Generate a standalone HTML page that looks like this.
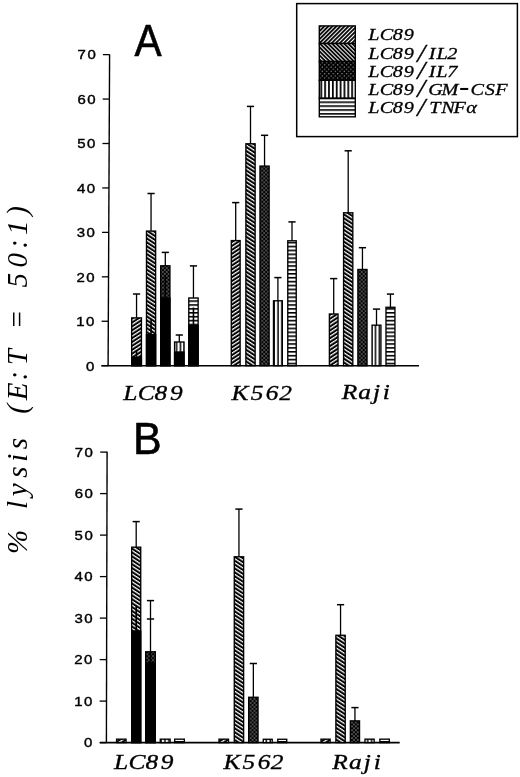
<!DOCTYPE html>
<html><head><meta charset="utf-8"><style>
html,body{margin:0;padding:0;background:#fff;}
body{width:520px;height:777px;overflow:hidden;}
svg{display:block;}
.tk{font-family:"Liberation Sans",sans-serif;font-size:13.4px;fill:#000;stroke:#000;stroke-width:0.4px;}
.ttl{font-family:"Liberation Sans",sans-serif;font-size:44.3px;fill:#000;stroke:#000;stroke-width:0.6px;}
.xl{font-family:"Liberation Serif",serif;font-style:italic;font-size:21.5px;fill:#000;stroke:#000;stroke-width:0.35px;}
.lg{font-family:"Liberation Serif",serif;font-style:italic;font-size:17.6px;fill:#000;stroke:#000;stroke-width:0.3px;}
.sl{font-size:25px;stroke-width:0.3px;}
.hy{font-size:27px;stroke-width:0;}
.yl{font-family:"Liberation Serif",serif;font-style:italic;font-size:29px;fill:#000;}
</style></head><body>
<svg width="520" height="777" viewBox="0 0 520 777">
<defs>
<pattern id="p1" patternUnits="userSpaceOnUse" width="3.27" height="3.27" patternTransform="rotate(-33)"><rect width="3.27" height="3.27" fill="#000"/><rect x="0" y="0" width="3.27" height="1.25" fill="#fff"/></pattern>
<pattern id="p2" patternUnits="userSpaceOnUse" width="3.27" height="3.27" patternTransform="rotate(33)"><rect width="3.27" height="3.27" fill="#000"/><rect x="0" y="0" width="3.27" height="1.25" fill="#fff"/></pattern>
<pattern id="q1" patternUnits="userSpaceOnUse" width="2.86" height="2.86" patternTransform="rotate(-45)"><rect width="2.86" height="2.86" fill="#000"/><rect x="0" y="0" width="2.86" height="1.05" fill="#fff"/></pattern>
<pattern id="q2" patternUnits="userSpaceOnUse" width="2.86" height="2.86" patternTransform="rotate(45)"><rect width="2.86" height="2.86" fill="#000"/><rect x="0" y="0" width="2.86" height="1.05" fill="#fff"/></pattern>
<pattern id="p3" patternUnits="userSpaceOnUse" width="3.9" height="3.9"><rect width="3.9" height="3.9" fill="#000"/><circle cx="0.97" cy="0.97" r="0.68" fill="#d0d0d0"/><circle cx="2.92" cy="2.92" r="0.68" fill="#d0d0d0"/></pattern>
<pattern id="q3" patternUnits="userSpaceOnUse" width="4.4" height="4.4"><rect width="4.4" height="4.4" fill="#000"/><circle cx="1.1" cy="1.1" r="0.62" fill="#bbb"/><circle cx="3.3" cy="3.3" r="0.62" fill="#bbb"/></pattern>
<pattern id="q4" patternUnits="userSpaceOnUse" width="3.86" height="3.9"><rect width="3.86" height="3.9" fill="#fff"/><rect x="0" y="0" width="1.75" height="3.9" fill="#000"/></pattern>
<pattern id="p4" patternUnits="userSpaceOnUse" width="3.9" height="3.9"><rect width="3.9" height="3.9" fill="#fff"/><rect x="0.4" y="0" width="1.5" height="3.9" fill="#000"/></pattern>
<pattern id="p5" patternUnits="userSpaceOnUse" width="3.9" height="3.9"><rect width="3.9" height="3.9" fill="#fff"/><rect x="0" y="0" width="3.9" height="1.6" fill="#000"/></pattern>
</defs>
<line x1="109.6" y1="54.4" x2="108.1" y2="365.7" stroke="#000" stroke-width="1.4"/>
<line x1="101.5" y1="365.7" x2="419" y2="365.7" stroke="#000" stroke-width="1.6"/>
<line x1="101.4" y1="365.7" x2="108.1" y2="365.7" stroke="#000" stroke-width="1.3"/>
<text transform="translate(95.7,370.55) scale(1.12,1)" class="tk" text-anchor="end" letter-spacing="1.3">0</text>
<line x1="101.61" y1="321.26" x2="108.31" y2="321.26" stroke="#000" stroke-width="1.3"/>
<text transform="translate(95.91,326.11) scale(1.12,1)" class="tk" text-anchor="end" letter-spacing="1.3">10</text>
<line x1="101.83" y1="276.82" x2="108.53" y2="276.82" stroke="#000" stroke-width="1.3"/>
<text transform="translate(96.13,281.67) scale(1.12,1)" class="tk" text-anchor="end" letter-spacing="1.3">20</text>
<line x1="102.04" y1="232.38" x2="108.74" y2="232.38" stroke="#000" stroke-width="1.3"/>
<text transform="translate(96.34,237.23) scale(1.12,1)" class="tk" text-anchor="end" letter-spacing="1.3">30</text>
<line x1="102.26" y1="187.94" x2="108.96" y2="187.94" stroke="#000" stroke-width="1.3"/>
<text transform="translate(96.56,192.79) scale(1.12,1)" class="tk" text-anchor="end" letter-spacing="1.3">40</text>
<line x1="102.47" y1="143.5" x2="109.17" y2="143.5" stroke="#000" stroke-width="1.3"/>
<text transform="translate(96.77,148.35) scale(1.12,1)" class="tk" text-anchor="end" letter-spacing="1.3">50</text>
<line x1="102.68" y1="99.06" x2="109.38" y2="99.06" stroke="#000" stroke-width="1.3"/>
<text transform="translate(96.98,103.91) scale(1.12,1)" class="tk" text-anchor="end" letter-spacing="1.3">60</text>
<line x1="102.9" y1="54.62" x2="109.6" y2="54.62" stroke="#000" stroke-width="1.3"/>
<text transform="translate(97.2,59.47) scale(1.12,1)" class="tk" text-anchor="end" letter-spacing="1.3">70</text>
<rect x="131.68" y="317.88" width="9.75" height="47.82" fill="url(#p1)" stroke="#000" stroke-width="1.35"/>
<rect x="135.75" y="350.8" width="1.6" height="6.6" fill="#000"/>
<rect x="131.68" y="357.4" width="9.75" height="8.3" fill="#000" stroke="#000" stroke-width="1.35"/>
<line x1="136.55" y1="317.88" x2="136.55" y2="294" stroke="#000" stroke-width="1.3"/>
<line x1="132.95" y1="294" x2="140.15" y2="294" stroke="#000" stroke-width="1.5"/>
<rect x="146.48" y="231.08" width="9.15" height="134.62" fill="url(#p2)" stroke="#000" stroke-width="1.35"/>
<rect x="150.25" y="318.8" width="1.6" height="15.8" fill="#000"/>
<rect x="146.48" y="334.6" width="9.15" height="31.1" fill="#000" stroke="#000" stroke-width="1.35"/>
<line x1="151.05" y1="231.08" x2="151.05" y2="193.5" stroke="#000" stroke-width="1.3"/>
<line x1="147.45" y1="193.5" x2="154.65" y2="193.5" stroke="#000" stroke-width="1.5"/>
<rect x="160.68" y="265.78" width="9.25" height="99.92" fill="url(#p3)" stroke="#000" stroke-width="1.35"/>
<rect x="164.5" y="275" width="1.6" height="23" fill="#000"/>
<rect x="160.68" y="298" width="9.25" height="67.7" fill="#000" stroke="#000" stroke-width="1.35"/>
<line x1="165.3" y1="265.78" x2="165.3" y2="252.4" stroke="#000" stroke-width="1.3"/>
<line x1="161.7" y1="252.4" x2="168.9" y2="252.4" stroke="#000" stroke-width="1.5"/>
<rect x="174.58" y="341.98" width="9.45" height="23.72" fill="url(#p4)" stroke="#000" stroke-width="1.35"/>
<rect x="174.58" y="352" width="9.45" height="13.7" fill="#000" stroke="#000" stroke-width="1.35"/>
<line x1="179.3" y1="341.98" x2="179.3" y2="335" stroke="#000" stroke-width="1.3"/>
<line x1="175.7" y1="335" x2="182.9" y2="335" stroke="#000" stroke-width="1.5"/>
<rect x="188.78" y="297.98" width="9.35" height="67.72" fill="url(#p5)" stroke="#000" stroke-width="1.35"/>
<rect x="192.65" y="307.5" width="1.6" height="18.1" fill="#000"/>
<rect x="188.78" y="325.6" width="9.35" height="40.1" fill="#000" stroke="#000" stroke-width="1.35"/>
<line x1="193.45" y1="297.98" x2="193.45" y2="265.9" stroke="#000" stroke-width="1.3"/>
<line x1="189.85" y1="265.9" x2="197.05" y2="265.9" stroke="#000" stroke-width="1.5"/>
<rect x="231.28" y="240.58" width="8.85" height="125.12" fill="url(#p1)" stroke="#000" stroke-width="1.35"/>
<line x1="235.7" y1="240.58" x2="235.7" y2="202.6" stroke="#000" stroke-width="1.3"/>
<line x1="232.1" y1="202.6" x2="239.3" y2="202.6" stroke="#000" stroke-width="1.5"/>
<rect x="245.88" y="143.78" width="9.25" height="221.92" fill="url(#p2)" stroke="#000" stroke-width="1.35"/>
<line x1="250.5" y1="143.78" x2="250.5" y2="106.4" stroke="#000" stroke-width="1.3"/>
<line x1="246.9" y1="106.4" x2="254.1" y2="106.4" stroke="#000" stroke-width="1.5"/>
<rect x="259.98" y="166.08" width="9.15" height="199.62" fill="url(#p3)" stroke="#000" stroke-width="1.35"/>
<line x1="264.55" y1="166.08" x2="264.55" y2="135.3" stroke="#000" stroke-width="1.3"/>
<line x1="260.95" y1="135.3" x2="268.15" y2="135.3" stroke="#000" stroke-width="1.5"/>
<rect x="273.48" y="300.78" width="8.85" height="64.92" fill="url(#p4)" stroke="#000" stroke-width="1.35"/>
<line x1="277.9" y1="300.78" x2="277.9" y2="277.6" stroke="#000" stroke-width="1.3"/>
<line x1="274.3" y1="277.6" x2="281.5" y2="277.6" stroke="#000" stroke-width="1.5"/>
<rect x="287.78" y="240.78" width="8.45" height="124.92" fill="url(#p5)" stroke="#000" stroke-width="1.35"/>
<line x1="292" y1="240.78" x2="292" y2="221.9" stroke="#000" stroke-width="1.3"/>
<line x1="288.4" y1="221.9" x2="295.6" y2="221.9" stroke="#000" stroke-width="1.5"/>
<rect x="329.38" y="313.98" width="8.65" height="51.72" fill="url(#p1)" stroke="#000" stroke-width="1.35"/>
<line x1="333.7" y1="313.98" x2="333.7" y2="278.6" stroke="#000" stroke-width="1.3"/>
<line x1="330.1" y1="278.6" x2="337.3" y2="278.6" stroke="#000" stroke-width="1.5"/>
<rect x="343.57" y="212.78" width="9.25" height="152.92" fill="url(#p2)" stroke="#000" stroke-width="1.35"/>
<line x1="348.2" y1="212.78" x2="348.2" y2="150.8" stroke="#000" stroke-width="1.3"/>
<line x1="344.6" y1="150.8" x2="351.8" y2="150.8" stroke="#000" stroke-width="1.5"/>
<rect x="357.88" y="269.48" width="9.15" height="96.22" fill="url(#p3)" stroke="#000" stroke-width="1.35"/>
<line x1="362.45" y1="269.48" x2="362.45" y2="247.7" stroke="#000" stroke-width="1.3"/>
<line x1="358.85" y1="247.7" x2="366.05" y2="247.7" stroke="#000" stroke-width="1.5"/>
<rect x="372.07" y="325.18" width="8.85" height="40.52" fill="url(#p4)" stroke="#000" stroke-width="1.35"/>
<line x1="376.5" y1="325.18" x2="376.5" y2="309.1" stroke="#000" stroke-width="1.3"/>
<line x1="372.9" y1="309.1" x2="380.1" y2="309.1" stroke="#000" stroke-width="1.5"/>
<rect x="385.98" y="307.28" width="8.95" height="58.42" fill="url(#p5)" stroke="#000" stroke-width="1.35"/>
<line x1="390.45" y1="307.28" x2="390.45" y2="294.1" stroke="#000" stroke-width="1.3"/>
<line x1="386.85" y1="294.1" x2="394.05" y2="294.1" stroke="#000" stroke-width="1.5"/>
<line x1="107.1" y1="451.7" x2="106.4" y2="742.6" stroke="#000" stroke-width="1.4"/>
<line x1="100" y1="742.6" x2="399.7" y2="742.6" stroke="#000" stroke-width="1.6"/>
<line x1="99.5" y1="742.6" x2="106.4" y2="742.6" stroke="#000" stroke-width="1.3"/>
<text transform="translate(93.7,747.45) scale(1.12,1)" class="tk" text-anchor="end" letter-spacing="1.3">0</text>
<line x1="99.6" y1="701.1" x2="106.5" y2="701.1" stroke="#000" stroke-width="1.3"/>
<text transform="translate(93.8,705.95) scale(1.12,1)" class="tk" text-anchor="end" letter-spacing="1.3">10</text>
<line x1="99.7" y1="659.6" x2="106.6" y2="659.6" stroke="#000" stroke-width="1.3"/>
<text transform="translate(93.9,664.45) scale(1.12,1)" class="tk" text-anchor="end" letter-spacing="1.3">20</text>
<line x1="99.8" y1="618.1" x2="106.7" y2="618.1" stroke="#000" stroke-width="1.3"/>
<text transform="translate(94,622.95) scale(1.12,1)" class="tk" text-anchor="end" letter-spacing="1.3">30</text>
<line x1="99.9" y1="576.6" x2="106.8" y2="576.6" stroke="#000" stroke-width="1.3"/>
<text transform="translate(94.1,581.45) scale(1.12,1)" class="tk" text-anchor="end" letter-spacing="1.3">40</text>
<line x1="100" y1="535.1" x2="106.9" y2="535.1" stroke="#000" stroke-width="1.3"/>
<text transform="translate(94.2,539.95) scale(1.12,1)" class="tk" text-anchor="end" letter-spacing="1.3">50</text>
<line x1="100.1" y1="493.6" x2="107" y2="493.6" stroke="#000" stroke-width="1.3"/>
<text transform="translate(94.3,498.45) scale(1.12,1)" class="tk" text-anchor="end" letter-spacing="1.3">60</text>
<line x1="100.2" y1="452.1" x2="107.1" y2="452.1" stroke="#000" stroke-width="1.3"/>
<text transform="translate(94.4,456.95) scale(1.12,1)" class="tk" text-anchor="end" letter-spacing="1.3">70</text>
<rect x="116.58" y="739.17" width="9.45" height="3.43" fill="url(#p1)" stroke="#000" stroke-width="1.35"/>
<rect x="131.68" y="547.17" width="9.05" height="195.43" fill="url(#p2)" stroke="#000" stroke-width="1.35"/>
<rect x="135.4" y="605.6" width="1.6" height="25.4" fill="#000"/>
<rect x="131.68" y="631" width="9.05" height="111.6" fill="#000" stroke="#000" stroke-width="1.35"/>
<line x1="136.2" y1="547.17" x2="136.2" y2="521.6" stroke="#000" stroke-width="1.3"/>
<line x1="132.6" y1="521.6" x2="139.8" y2="521.6" stroke="#000" stroke-width="1.5"/>
<rect x="145.68" y="651.77" width="9.65" height="90.83" fill="url(#p3)" stroke="#000" stroke-width="1.35"/>
<rect x="149.7" y="652" width="1.6" height="10.8" fill="#000"/>
<rect x="145.68" y="662.8" width="9.65" height="79.8" fill="#000" stroke="#000" stroke-width="1.35"/>
<line x1="150.5" y1="651.77" x2="150.5" y2="600.6" stroke="#000" stroke-width="1.3"/>
<line x1="146.9" y1="600.6" x2="154.1" y2="600.6" stroke="#000" stroke-width="1.5"/>
<line x1="146.9" y1="619" x2="154.1" y2="619" stroke="#000" stroke-width="1.5"/>
<rect x="160.28" y="739.17" width="9.85" height="3.43" fill="url(#p4)" stroke="#000" stroke-width="1.35"/>
<rect x="174.68" y="739.17" width="9.65" height="3.43" fill="url(#p5)" stroke="#000" stroke-width="1.35"/>
<rect x="218.98" y="739.17" width="9.55" height="3.43" fill="url(#p1)" stroke="#000" stroke-width="1.35"/>
<rect x="234.28" y="556.77" width="9.35" height="185.83" fill="url(#p2)" stroke="#000" stroke-width="1.35"/>
<line x1="238.95" y1="556.77" x2="238.95" y2="509.1" stroke="#000" stroke-width="1.3"/>
<line x1="235.35" y1="509.1" x2="242.55" y2="509.1" stroke="#000" stroke-width="1.5"/>
<rect x="248.68" y="697.27" width="9.35" height="45.33" fill="url(#p3)" stroke="#000" stroke-width="1.35"/>
<line x1="253.35" y1="697.27" x2="253.35" y2="663.5" stroke="#000" stroke-width="1.3"/>
<line x1="249.75" y1="663.5" x2="256.95" y2="663.5" stroke="#000" stroke-width="1.5"/>
<rect x="263.28" y="739.27" width="8.95" height="3.33" fill="url(#p4)" stroke="#000" stroke-width="1.35"/>
<rect x="277.78" y="739.27" width="8.95" height="3.33" fill="url(#p5)" stroke="#000" stroke-width="1.35"/>
<rect x="320.98" y="739.17" width="9.15" height="3.43" fill="url(#p1)" stroke="#000" stroke-width="1.35"/>
<rect x="335.88" y="635.27" width="9.35" height="107.33" fill="url(#p2)" stroke="#000" stroke-width="1.35"/>
<line x1="340.55" y1="635.27" x2="340.55" y2="604.7" stroke="#000" stroke-width="1.3"/>
<line x1="336.95" y1="604.7" x2="344.15" y2="604.7" stroke="#000" stroke-width="1.5"/>
<rect x="350.38" y="720.88" width="9.15" height="21.73" fill="url(#p3)" stroke="#000" stroke-width="1.35"/>
<line x1="354.95" y1="720.88" x2="354.95" y2="707.6" stroke="#000" stroke-width="1.3"/>
<line x1="351.35" y1="707.6" x2="358.55" y2="707.6" stroke="#000" stroke-width="1.5"/>
<rect x="364.98" y="739.17" width="9.15" height="3.43" fill="url(#p4)" stroke="#000" stroke-width="1.35"/>
<rect x="379.88" y="739.17" width="9.45" height="3.43" fill="url(#p5)" stroke="#000" stroke-width="1.35"/>
<text transform="translate(134.6,55.8) scale(0.92,1)" class="ttl">A</text>
<text transform="translate(133.1,454) scale(0.97,1)" class="ttl">B</text>
<text transform="scale(1.18,1)" x="110.51 123.81 136.36 149.49" y="399.8" class="xl" text-anchor="middle">LC89</text>
<text transform="scale(1.18,1)" x="203.39 217.97 230.59 241.95" y="399.8" class="xl" text-anchor="middle">K562</text>
<text transform="scale(1.18,1)" x="296.19 309.07 319.07 327.37" y="399.2" class="xl" text-anchor="middle">Raji</text>
<text transform="scale(1.18,1)" x="102.63 116.02 128.73 141.69" y="769" class="xl" text-anchor="middle">LC89</text>
<text transform="scale(1.18,1)" x="196.61 210.93 223.81 234.83" y="769" class="xl" text-anchor="middle">K562</text>
<text transform="scale(1.18,1)" x="288.05 301.19 311.19 319.75" y="768.9" class="xl" text-anchor="middle">Raji</text>
<text transform="translate(26.8,0) rotate(-90)" class="yl" text-anchor="middle" x="-542 -523 -505 -489.7 -472 -457.7 -443.6 -426 -409 -391.5 -375.7 -357.2 -338 -319.4 -300 -280.3 -260.3 -244 -227.8 -210.8" y="0">% lysis (E:T = 50:1)</text>
<rect x="296.7" y="3.6" width="220.7" height="133" fill="none" stroke="#000" stroke-width="1.5"/>
<rect x="319.3" y="25.9" width="36" height="17.6" fill="url(#q1)" stroke="#000" stroke-width="1.4"/>
<rect x="319.3" y="43.5" width="36" height="18" fill="url(#q2)" stroke="#000" stroke-width="1.4"/>
<rect x="319.3" y="61.5" width="36" height="18.8" fill="url(#q3)" stroke="#000" stroke-width="1.4"/>
<rect x="319.3" y="80.3" width="36" height="18" fill="url(#q4)" stroke="#000" stroke-width="1.4"/>
<rect x="319.3" y="98.3" width="36" height="18.5" fill="url(#p5)" stroke="#000" stroke-width="1.4"/>
<text transform="scale(1.15,1)" x="325.22 336 346 355.48" y="40.3 40.3 40.3 40.3" class="lg" text-anchor="middle">LC89</text>
<text transform="scale(1.15,1)" x="325.22 336 346 355.48 366.26 375.83 384.52 393.22" y="59 59 59 59 61.6 59 59 59" class="lg" text-anchor="middle">LC89<tspan class="sl">/</tspan>IL2</text>
<text transform="scale(1.15,1)" x="325.22 336 346 355.48 366.26 375.83 384.26 393.22" y="76.6 76.6 76.6 76.6 79.2 76.6 76.6 76.6" class="lg" text-anchor="middle">LC89<tspan class="sl">/</tspan>IL7</text>
<text transform="scale(1.15,1)" x="325.22 336 346 355.48 366.26 378.7 391.22 403.74 415.04 425.91 436" y="94.9 94.9 94.9 94.9 97.5 94.9 94.9 94.9 94.9 94.9 94.9" class="lg" text-anchor="middle">LC89<tspan class="sl">/</tspan>GM<tspan class="hy">-</tspan>CSF</text>
<text transform="scale(1.15,1)" x="325.22 336 346 355.48 366.26 378.26 389.57 399.65 410" y="113.1 113.1 113.1 113.1 115.7 113.1 113.1 113.1 113.1" class="lg" text-anchor="middle">LC89<tspan class="sl">/</tspan>TNF&#945;</text>
</svg>
</body></html>
